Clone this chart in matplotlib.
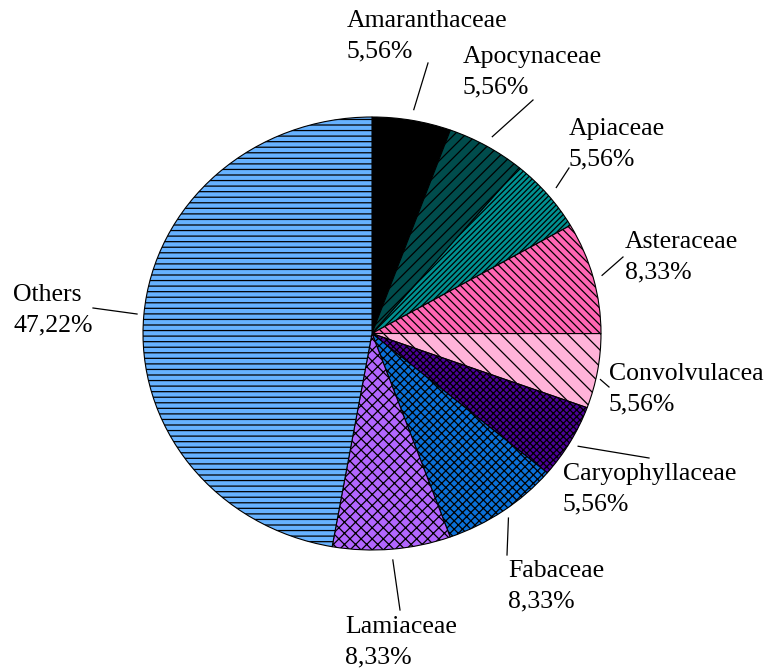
import matplotlib
matplotlib.use("Agg")
import matplotlib.pyplot as plt
import numpy as np
from matplotlib.lines import Line2D

# Plant families and their share of species (%)
families = ["Amaranthaceae", "Apocynaceae", "Apiaceae", "Asteraceae",
            "Convolvulacea", "Caryophyllaceae", "Fabaceae", "Lamiaceae", "Others"]
shares = [5.56, 5.56, 5.56, 8.33, 5.56, 5.56, 8.33, 8.33, 47.22]

colors = ["#000000", "#004c4c", "#009090", "#ff66b3", "#ffb3d9",
          "#4c0099", "#0a70d8", "#b266ff", "#66b2ff"]
hatches = ["", "///", "//////", "\\\\\\\\", "\\\\", "xxxxx", "xxxx", "xxx", "---"]

# label layout: text left x, first-line baseline y, leader end (figure pixels, from top)
label_pos = [(347, 27), (463, 63), (569, 135), (625, 248), (609, 380),
             (563, 480), (508, 577), (345, 633), (13, 301)]
leader_end = [(428, 63), (533, 100), (569, 168), (623, 257), (609, 387),
              (649, 458), (507, 555), (400, 610), (93, 308)]
leader_angle_shift = [0, 0, 0, 0, -2, 0, 0, 0, 0]
leader_radius = [1.05, 1.05, 1.05, 1.04, 1.02, 1.04, 1.04, 1.05, 1.03]

W, H = 769, 668
plt.rcParams["font.family"] = ["Liberation Serif", "DejaVu Serif"]
plt.rcParams["hatch.linewidth"] = 0.9

fig = plt.figure(figsize=(W / 100, H / 100), dpi=100)
# pie area: x 143..601, y 117..550 (pixels from top)
ax = fig.add_axes([143 / W, 1 - 550 / H, (601 - 143) / W, (550 - 117) / H])

wedges, _ = ax.pie(shares, colors=colors, startangle=90, counterclock=False,
                   wedgeprops=dict(edgecolor="black", linewidth=0.8))
for w, h in zip(wedges, hatches):
    w.set_hatch(h)

ax.set_aspect("auto")
ax.set_xlim(-1, 1)
ax.set_ylim(-1, 1)
ax.axis("off")

def fig_frac(px, py):
    return px / W, 1 - py / H

data_to_fig = ax.transData + fig.transFigure.inverted()

for i, (name, val, w) in enumerate(zip(families, shares, wedges)):
    mid = np.deg2rad((w.theta1 + w.theta2) / 2 + leader_angle_shift[i])
    r = leader_radius[i]
    sx, sy = data_to_fig.transform((r * np.cos(mid), r * np.sin(mid)))
    ex, ey = fig_frac(*leader_end[i])
    fig.add_artist(Line2D([sx, ex], [sy, ey], transform=fig.transFigure,
                          color="black", linewidth=0.9))
    tx, ty = label_pos[i]
    pct = f"{val:.2f}".replace(".", ",") + "%"
    fig.text(*fig_frac(tx, ty), name, fontsize=18.5, ha="left", va="baseline")
    fig.text(*fig_frac(tx, ty + 30), pct, fontsize=18.5, ha="left", va="baseline")

fig.savefig("out.png", dpi=100)
